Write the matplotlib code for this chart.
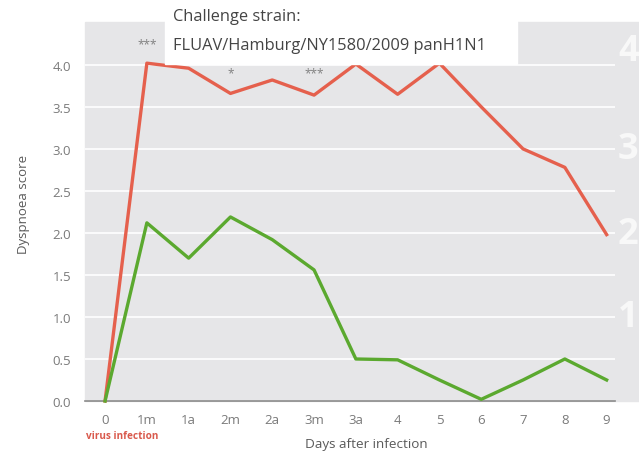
import matplotlib.pyplot as plt
from matplotlib.patches import Rectangle

plt.rcParams['font.family'] = ['Open Sans', 'DejaVu Sans']

# dati
giorni = ['0', '1m', '1a', '2m', '2a', '3m', '3a', '4', '5', '6', '7', '8', '9']
rosso = [0.0, 4.02, 3.96, 3.66, 3.82, 3.64, 4.01, 3.65, 4.02, 3.5, 3.0, 2.78, 1.98]
verde = [0.0, 2.12, 1.70, 2.19, 1.92, 1.56, 0.50, 0.49, 0.25, 0.02, 0.25, 0.50, 0.25]
asterischi = {1: '***', 3: '*', 5: '***'}
pos_asterischi = [4.25, 3.9, 3.9]
numeri_dx = ['4', '3', '2', '1']

grigio = '#e6e6e8'
c_rosso = '#e5604d'
c_verde = '#5ba92f'

fig = plt.figure(figsize=(6.39, 4.56), dpi=100)
fig.set_facecolor('white')

# sfondo grigio che continua a destra oltre l'asse
fig.patches.append(Rectangle((85 / 639, 54 / 456), 554 / 639, 379 / 456,
                             transform=fig.transFigure, color=grigio, zorder=-5))

ax = fig.add_axes([85 / 639, 54 / 456, 530 / 639, 379 / 456])
ax.set_facecolor(grigio)
x = list(range(len(giorni)))

ax.set_xlim(-0.48, 12.2)
ax.set_ylim(0, 4.51)
ax.set_yticks([0, 0.5, 1, 1.5, 2, 2.5, 3, 3.5, 4])
ax.set_yticklabels(['0.0', '0.5', '1.0', '1.5', '2.0', '2.5', '3.0', '3.5', '4.0'])
ax.set_xticks(x)
ax.set_xticklabels(giorni)
ax.tick_params(length=0, colors='#7a7a7a', labelsize=9.5, pad=9)
ax.tick_params(axis='y', pad=10)
ax.grid(True, axis='y', color='white', linewidth=1.2)
ax.set_axisbelow(True)
for s in ['top', 'right', 'left']:
    ax.spines[s].set_visible(False)
ax.spines['bottom'].set_color('#8a8a8a')
ax.spines['bottom'].set_linewidth(1.2)

ax.plot(x, rosso, color=c_rosso, linewidth=2.4, clip_on=False, zorder=3)
ax.plot(x, verde, color=c_verde, linewidth=2.4, clip_on=False, zorder=3)

for (i, s), yy in zip(asterischi.items(), pos_asterischi):
    ax.text(i, yy, s, ha='center', va='center', fontsize=8.5, color='#808080')

ax.set_ylabel('Dyspnoea score', fontsize=9.5, color='#5a5a5a')
ax.yaxis.set_label_coords(-0.103, 0.52)
ax.set_xlabel('Days after infection', fontsize=9.7, color='#5a5a5a')
ax.xaxis.set_label_coords(0.53, -0.095)

fig.text(122 / 639, 1 - 437 / 456, 'virus infection', ha='center', va='center',
         fontsize=7.2, color='#d9594c', fontweight='bold')

# riquadro bianco con il ceppo
fig.patches.append(Rectangle((165 / 639, 1 - 65 / 456), 352 / 639, 65 / 456,
                             transform=fig.transFigure, color='white', zorder=5))
fig.text(173 / 639, 1 - 17 / 456, 'Challenge strain:', ha='left', va='center',
         fontsize=11.8, color='#444444', zorder=6)
fig.text(173 / 639, 1 - 46 / 456, 'FLUAV/Hamburg/NY1580/2009 panH1N1', ha='left',
         va='center', fontsize=11.8, color='#444444', zorder=6)

# numeri grandi bianchi sul bordo destro
for n, yy in zip(numeri_dx, [52, 150, 235, 318]):
    fig.text(618 / 639, 1 - yy / 456, n, ha='left', va='center', fontsize=26,
             color='#f8f8f8', fontweight='bold', zorder=6)

fig.savefig('out.png', dpi=100)
